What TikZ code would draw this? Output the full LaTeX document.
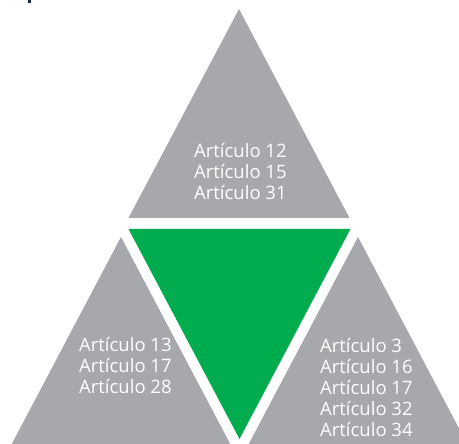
\documentclass[tikz,border=0pt]{standalone}
\usepackage{fontspec}
\setmainfont{Open Sans}
\usepackage{tikz}
\usetikzlibrary{positioning}
\definecolor{grisart}{RGB}{167,168,172}
\definecolor{verdeart}{RGB}{0,172,78}
\definecolor{marca}{RGB}{26,38,56}

\begin{document}
\begin{tikzpicture}[x=1pt,y=-1pt,
            gris/.style={fill=grisart},
            verde/.style={fill=verdeart},
            lab/.style={text=white,align=left,anchor=west,inner sep=0pt,
                        font=\fontsize{18.5}{21}\selectfont}
          ]
          \useasboundingbox (0,0) rectangle (459,444);
          \clip (0,0) rectangle (459,444);

          %triangles
          \fill[gris] (239,9) -- (349.5,218) -- (128.5,218) -- cycle;
          \fill[verde] (128.5,229) -- (350.5,229) -- (239.5,439) -- cycle;
          \fill[gris] (121,237) -- (238.7,460) -- (3.3,460) -- cycle;
          \fill[gris] (358,237) -- (475.7,460) -- (240.3,460) -- cycle;
          \fill[marca] (28,0) rectangle (31,3);

          %labels
          \node[lab] (arriba) at (194,172) {Artículo 12\\Artículo 15\\Artículo 31};
          \node[lab] (izq) at (79,366) {Artículo 13\\Artículo 17\\Artículo 28};
          \node[lab] (der) at (320,388) {Artículo 3\\Artículo 16\\Artículo 17\\Artículo 32\\Artículo 34};
      \end{tikzpicture}
\end{document}
